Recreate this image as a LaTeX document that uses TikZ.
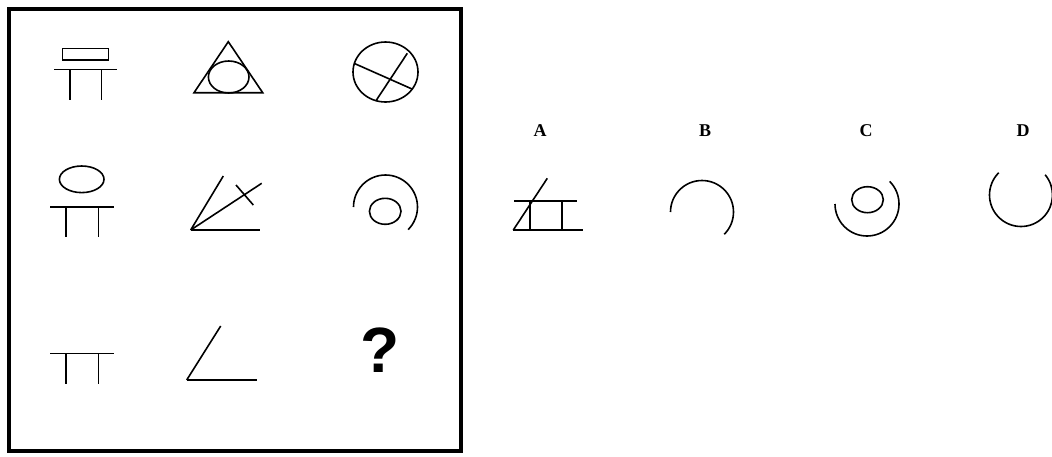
\documentclass[tikz,border=0pt]{standalone}
\usepackage{fontspec}
\setmainfont{Liberation Serif}
\newfontfamily\qfont{Liberation Sans}
\begin{document}
\begin{tikzpicture}[x=1pt,y=-1pt,line width=1.6pt,
  fig/.style={draw=black,line width=1.6pt},
  lbl/.style={font=\bfseries\fontsize{18}{18}\selectfont,inner sep=0pt}]
\useasboundingbox (0,0) rectangle (1052,456);
\clip (0,0) rectangle (1052,456);
% frame
\draw[line width=3.5pt] (9,9) rectangle (461,451);
% row 1
\draw[fig] (62.3,48.3) rectangle (108.3,60);
\draw[fig] (54,69.3) -- (117.3,69.3);
\draw[fig] (70,69.3) -- (70,100) (101.3,69.3) -- (101.3,100);
\draw[fig] (228.3,41.7) -- (262.7,92.7) -- (194,92.7) -- cycle;
\draw[fig] (228.7,77) ellipse [x radius=20.3, y radius=16];
\draw[fig] (385.5,72) ellipse [x radius=32.5, y radius=30];
\draw[fig] (354,63.3) -- (412.7,89.3);
\draw[fig] (407.3,53.3) -- (376,100.7);
% row 2
\draw[fig] (81.7,179.3) ellipse [x radius=22.3, y radius=13.3];
\draw[fig] (50,206.7) -- (114,206.7);
\draw[fig] (66,206.7) -- (66,237.3) (98.3,206.7) -- (98.3,237.3);
\coordinate (v5) at (190.7,230);
\draw[fig] (v5) -- (260,230);
\draw[fig] (v5) -- (223.3,176);
\draw[fig] (v5) -- (261.7,183.3);
\draw[fig] (236,185) -- (253.3,205);
\draw[fig] (385.5,207) ++(-180:32) arc[start angle=-180,end angle=45,radius=32];
\draw[fig] (385.2,211.3) ellipse [x radius=15.8, y radius=13];
% row 3
\draw[fig] (50,353.3) -- (114,353.3);
\draw[fig] (66,353.3) -- (66,384) (98.3,353.3) -- (98.3,384);
\coordinate (v8) at (186.7,380);
\draw[fig] (v8) -- (256.7,380);
\draw[fig] (v8) -- (220.7,326);
\node[font=\qfont\bfseries\fontsize{64}{64}\selectfont,inner sep=0pt] (q) at (380,350) {?};
% labels
\node[lbl] (la) at (540,131) {A};
\node[lbl] (lb) at (705,131) {B};
\node[lbl] (lc) at (866,131) {C};
\node[lbl] (ld) at (1023,131) {D};
% option A
\draw[fig] (514,201) -- (577.3,201);
\draw[fig] (513.3,230) -- (582.7,230);
\draw[fig] (530,201) -- (530,230) (561.7,201) -- (561.7,230);
\draw[fig] (513.3,230) -- (547.3,178.3);
% option B
\draw[fig] (702,212) ++(-180:31.5) arc[start angle=-180,end angle=45,radius=31.5];
% option C
\draw[fig] (867.5,199.7) ellipse [x radius=15.8, y radius=13];
\draw[fig] (867,204) ++(-45:32) arc[start angle=-45,end angle=180,radius=32];
% option D
\draw[fig] (1021,195) ++(-135:31.5) arc[start angle=-135,end angle=-400,radius=31.5];
\end{tikzpicture}
\end{document}
